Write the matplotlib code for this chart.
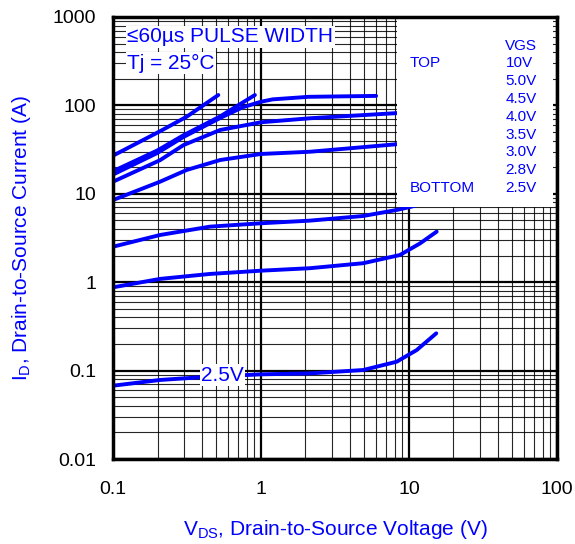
import numpy as np
import matplotlib
matplotlib.use("Agg")
import matplotlib.pyplot as plt
from matplotlib.patches import Rectangle

plt.rcParams["font.family"] = ["Liberation Sans", "DejaVu Sans"]
plt.rcParams["mathtext.fontset"] = "custom"
plt.rcParams["mathtext.rm"] = "Liberation Sans"
plt.rcParams["mathtext.it"] = "Liberation Sans:italic"

BLUE = "#0000ff"

# output curves, one per VGS
vds_10v = [0.1, 0.208, 0.315, 0.515]
id_10v = [27, 51, 74.5, 131]

vds_5v = [0.1, 0.2, 0.3, 0.53, 0.91]
id_5v = [18, 31, 46, 75, 131]

vds_45v = [0.1, 0.2, 0.3, 0.53, 0.75, 1.0, 1.2, 2.1, 6.0]
id_45v = [16.5, 29, 44, 72, 95, 110, 117, 125, 128]

vds_4v = [0.1, 0.208, 0.3, 0.53, 1.0, 2.14, 8.5]
id_4v = [13.7, 24, 35.6, 52.7, 64.4, 71.5, 82]

vds_35v = [0.1, 0.208, 0.315, 0.53, 1.0, 2.14, 8.5]
id_35v = [8.5, 13.7, 18.6, 24.1, 28.2, 29.9, 36.5]

vds_3v = [0.1, 0.208, 0.452, 1.0, 2.14, 4.91, 8.26, 10.4, 13.0]
id_3v = [2.52, 3.42, 4.25, 4.64, 4.97, 5.61, 6.56, 7.15, 8.0]

vds_28v = [0.1, 0.208, 0.452, 1.0, 2.14, 4.91, 8.69, 11.9, 15.4]
id_28v = [0.875, 1.09, 1.24, 1.35, 1.44, 1.64, 2.03, 2.75, 3.73]

vds_25v = [0.1, 0.208, 0.387, 1.0, 2.14, 4.91, 8.26, 11.3, 15.3]
id_25v = [0.0675, 0.0784, 0.084, 0.0908, 0.093, 0.1016, 0.126, 0.171, 0.264]

curves = [(vds_10v, id_10v), (vds_5v, id_5v), (vds_45v, id_45v), (vds_4v, id_4v),
          (vds_35v, id_35v), (vds_3v, id_3v), (vds_28v, id_28v), (vds_25v, id_25v)]

vgs_labels = ["10V", "5.0V", "4.5V", "4.0V", "3.5V", "3.0V", "2.8V", "2.5V"]

fig = plt.figure(figsize=(5.75, 5.44), dpi=100)
ax = fig.add_axes([0.1965, 0.1562, 0.772, 0.8126])

ax.set_xscale("log")
ax.set_yscale("log")
ax.set_xlim(0.1, 100)
ax.set_ylim(0.01, 1000)

ax.grid(which="major", color="black", linewidth=1.6, zorder=1)
ax.grid(which="minor", color="black", linewidth=0.8, alpha=0.85, zorder=1)
ax.tick_params(which="both", length=0, labelsize=14, pad=12)
ax.tick_params(axis="x", pad=16)
ax.set_xticks([0.1, 1, 10, 100])
ax.set_xticklabels(["0.1", "1", "10", "100"])
ax.set_yticks([0.01, 0.1, 1, 10, 100, 1000])
ax.set_yticklabels(["0.01", "0.1", "1", "10", "100", "1000"])
for s in ax.spines.values():
    s.set_linewidth(2.5)
    s.set_zorder(6)

for vx, vy in curves:
    ax.plot(vx, vy, color=BLUE, linewidth=2.8, solid_capstyle="round",
            solid_joinstyle="round", zorder=3)

# VGS legend box
ax.add_patch(Rectangle((0.64, 0.57), 0.351, 0.428, transform=ax.transAxes,
                       facecolor="white", edgecolor="none", zorder=4))
ax.text(0.884, 0.935, "VGS", transform=ax.transAxes, color=BLUE, fontsize=11,
        va="center", ha="left", zorder=5)
ax.text(0.668, 0.895, "TOP", transform=ax.transAxes, color=BLUE, fontsize=11,
        va="center", ha="left", zorder=5)
ax.text(0.668, 0.613, "BOTTOM", transform=ax.transAxes, color=BLUE, fontsize=11,
        va="center", ha="left", zorder=5)
for i, lab in enumerate(vgs_labels):
    ax.text(0.884, 0.895 - i * 0.0403, lab, transform=ax.transAxes, color=BLUE,
            fontsize=11, va="center", ha="left", zorder=5)

box = dict(facecolor="white", edgecolor="none", pad=1)
ax.text(0.032, 0.955, "\u226460\u00b5s PULSE WIDTH", transform=ax.transAxes, color=BLUE,
        fontsize=15, va="center", ha="left", bbox=box, zorder=5)
ax.text(0.032, 0.895, "Tj = 25\u00b0C", transform=ax.transAxes, color=BLUE,
        fontsize=15, va="center", ha="left", bbox=box, zorder=5)
ax.text(0.55, 0.089, "2.5V", color=BLUE, fontsize=15, va="center", ha="center",
        bbox=box, zorder=5)

ax.set_xlabel("V$_{\\mathregular{DS}}$, Drain-to-Source Voltage (V)", color=BLUE,
              fontsize=15, labelpad=14)
ax.set_ylabel("I$_{\\mathregular{D}}$, Drain-to-Source Current (A)", color=BLUE,
              fontsize=15, labelpad=14)

fig.savefig("out.png", dpi=100)
